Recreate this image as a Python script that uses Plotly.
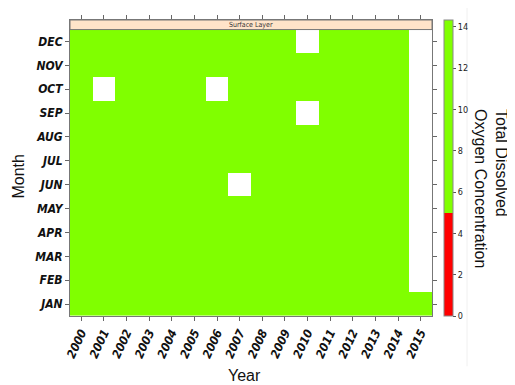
import plotly.graph_objects as go

years = list(range(2000, 2016))
month_labels = ['JAN', 'FEB', 'MAR', 'APR', 'MAY', 'JUN',
                'JUL', 'AUG', 'SEP', 'OCT', 'NOV', 'DEC']
month_pos = list(range(1, 13))

# Total dissolved oxygen per year, JAN..DEC (None = no sample)
do_2000 = [12.1, 12.4, 11.8, 10.6, 9.4, 8.3, 7.6, 7.4, 8.0, 9.1, 10.5, 11.7]
do_2001 = [12.3, 12.0, 11.5, 10.2, 9.1, 8.0, 7.3, 7.5, 8.2, None, 10.8, 11.9]
do_2002 = [11.9, 12.2, 11.6, 10.4, 9.6, 8.4, 7.7, 7.2, 8.1, 9.3, 10.6, 11.5]
do_2003 = [12.5, 12.7, 12.0, 10.9, 9.5, 8.2, 7.5, 7.3, 7.9, 9.0, 10.4, 11.8]
do_2004 = [12.0, 12.3, 11.7, 10.5, 9.3, 8.1, 7.4, 7.6, 8.3, 9.4, 10.7, 11.6]
do_2005 = [12.2, 12.1, 11.9, 10.7, 9.2, 8.5, 7.8, 7.5, 8.0, 9.2, 10.3, 11.4]
do_2006 = [11.8, 12.0, 11.4, 10.3, 9.0, 7.9, 7.2, 7.1, 7.8, None, 10.2, 11.5]
do_2007 = [12.4, 12.6, 11.8, 10.8, 9.7, None, 7.6, 7.4, 8.1, 9.3, 10.9, 12.0]
do_2008 = [12.6, 12.5, 12.1, 11.0, 9.8, 8.6, 7.9, 7.7, 8.4, 9.6, 11.0, 12.1]
do_2009 = [12.0, 12.2, 11.6, 10.4, 9.1, 8.0, 7.3, 7.2, 7.9, 9.1, 10.5, 11.6]
do_2010 = [11.7, 11.9, 11.3, 10.1, 8.9, 7.8, 7.1, 7.0, None, 8.9, 10.1, None]
do_2011 = [12.3, 12.4, 11.9, 10.6, 9.4, 8.2, 7.5, 7.4, 8.1, 9.2, 10.6, 11.8]
do_2012 = [11.9, 12.1, 11.5, 10.2, 9.0, 7.9, 7.2, 7.3, 8.0, 9.0, 10.4, 11.5]
do_2013 = [12.2, 12.5, 11.9, 10.8, 9.5, 8.3, 7.6, 7.5, 8.2, 9.4, 10.8, 11.9]
do_2014 = [12.0, 12.3, 11.7, 10.5, 9.3, 8.1, 7.4, 7.3, 8.0, 9.2, 10.5, 11.7]
do_2015 = [12.1, None, None, None, None, None, None, None, None, None, None, None]

by_year = [do_2000, do_2001, do_2002, do_2003, do_2004, do_2005, do_2006, do_2007,
           do_2008, do_2009, do_2010, do_2011, do_2012, do_2013, do_2014, do_2015]
z = [[by_year[j][i] for j in range(len(years))] for i in range(12)]

zmax = 14.33
threshold = 5
green = '#80FF00'
red = '#FF0000'
cscale = [[0, red], [threshold / zmax, red], [threshold / zmax, green], [1, green]]

narrow = 'Liberation Sans Narrow, Arial Narrow, DejaVu Sans Condensed, Arial'
tick_font = dict(family=narrow, size=12, color='#111111', weight='bold', style='italic')
label_font = dict(size=16, family='Arial, Liberation Sans', color='#111111')

fig = go.Figure(go.Heatmap(
    x=years, y=month_pos, z=z, zmin=0, zmax=zmax,
    colorscale=cscale, hoverongaps=False,
    colorbar=dict(
        x=1.032, xanchor='left', xpad=0, y=0, yanchor='bottom', ypad=0,
        len=1, lenmode='fraction', thickness=9, thicknessmode='pixels',
        outlinewidth=1, outlinecolor='#888888',
        tickmode='array', tickvals=[0, 2, 4, 6, 8, 10, 12, 14],
        ticks='outside', ticklen=3, tickcolor='#555555',
        tickfont=dict(family=narrow, size=9, color='#222222'),
    ),
))

fig.update_layout(
    width=507, height=377,
    margin=dict(l=62, r=83, t=7, b=69),
    paper_bgcolor='white', plot_bgcolor='white',
    font=dict(family='Arial, Liberation Sans', color='#111111'),
    xaxis=dict(
        range=[1999.5, 2015.5], tickmode='array', tickvals=years,
        ticktext=[str(y) for y in years], tickangle=-65,
        ticks='outside', ticklen=4, tickcolor='#666666',
        showline=True, linecolor='#777777', linewidth=1, mirror='allticks',
        showgrid=False, zeroline=False, tickfont=tick_font,
    ),
    yaxis=dict(
        range=[0.5, 12.9], tickmode='array', tickvals=month_pos, ticktext=month_labels,
        ticks='outside', ticklen=4, tickcolor='#666666',
        showline=True, linecolor='#777777', linewidth=1, mirror='allticks',
        showgrid=False, zeroline=False, tickfont=tick_font,
    ),
    shapes=[
        dict(type='rect', xref='x', yref='y', x0=1999.5, x1=2015.5, y0=12.5, y1=12.9,
             fillcolor='#FFE4C9', line=dict(color='#777777', width=1), layer='above'),
        dict(type='line', xref='paper', yref='paper', x0=1.0967, x1=1.0967, y0=-0.17, y1=1.05,
             line=dict(color='#F0F0F0', width=1)),
    ],
    annotations=[
        dict(text='Surface Layer', xref='paper', yref='y', x=0.5, y=12.7, showarrow=False,
             font=dict(size=7, family=narrow, color='#333333')),
        dict(text='Year', xref='paper', yref='paper', x=0.481, y=-0.2,
             xanchor='center', yanchor='middle', showarrow=False, font=label_font),
        dict(text='Month', xref='paper', yref='paper', x=-0.143, y=0.472, textangle=-90,
             xanchor='center', yanchor='middle', showarrow=False, font=label_font),
        dict(text='Total Dissolved<br>Oxygen Concentration', xref='paper', yref='paper',
             x=1.163, y=0.432, xanchor='center', yanchor='middle', textangle=90,
             align='left', showarrow=False, font=label_font),
    ],
)

fig.write_html('out.html')
